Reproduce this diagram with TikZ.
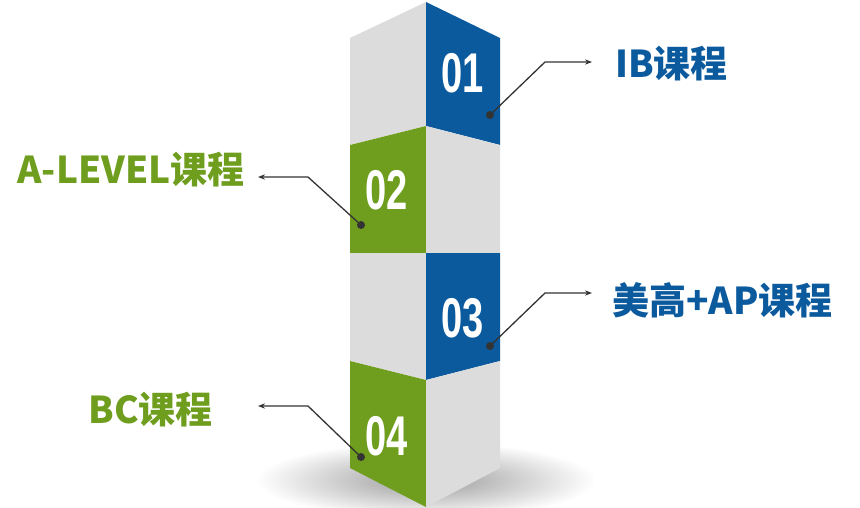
\documentclass[tikz,border=0pt]{standalone}
\usepackage{fontspec}
\setmainfont{Liberation Sans}
\newfontfamily\cjk{Noto Sans CJK SC}
\usetikzlibrary{positioning, calc, arrows.meta}
\definecolor{stepblue}{HTML}{0B5A9E}
\definecolor{stepgreen}{HTML}{6F9E1F}
\definecolor{facegray}{HTML}{DCDCDC}
\definecolor{linegray}{HTML}{333333}

\begin{document}
\begin{tikzpicture}[
    x=1pt, y=-1pt,
    num/.style={text=white, font=\fontsize{56}{56}\selectfont\bfseries, xscale=0.68, inner sep=0},
    label/.style={font=\cjk\fontsize{37}{37}\selectfont\bfseries, inner sep=0},
    dot/.style={circle, fill=linegray, inner sep=0, minimum size=8pt},
    pointer/.style={linegray, line width=1.3pt, -{Stealth[length=7pt]}}
]
\useasboundingbox (0,0) rectangle (860,507);

% shadow under the column
\shade[inner color=black!40, outer color=white] (426,480) ellipse (170 and 38);

% block 1
\fill[facegray] (350,38) -- (426,2) -- (426,126) -- (350,145) -- cycle;
\fill[stepblue] (426,2) -- (500,38) -- (500,145) -- (426,126) -- cycle;
% block 2
\fill[stepgreen] (350,145) -- (426,126) -- (426,253) -- (350,253) -- cycle;
\fill[facegray] (426,126) -- (500,145) -- (500,253) -- (426,253) -- cycle;
% block 3
\fill[facegray] (350,253) -- (426,253) -- (426,380) -- (350,361) -- cycle;
\fill[stepblue] (426,253) -- (500,253) -- (500,361) -- (426,380) -- cycle;
% block 4
\fill[stepgreen] (350,361) -- (426,380) -- (426,507) -- (350,468) -- cycle;
\fill[facegray] (426,380) -- (500,361) -- (500,468) -- (426,507) -- cycle;

% numbers
\node[num] (n1) at (463,73) {01};
\node[num] (n2) at (387,190) {02};
\node[num] (n3) at (463,318) {03};
\node[num] (n4) at (387,436) {04};

% dots
\node[dot] (d1) at (490,115) {};
\node[dot] (d2) at (361,225) {};
\node[dot] (d3) at (490,346) {};
\node[dot] (d4) at (361,457) {};

% labels
\node[label, text=stepblue, anchor=west] (l1) at (615,64) {IB课程};
\node[label, text=stepgreen, anchor=east] (l2) at (245,170) {A-LEVEL课程};
\node[label, text=stepblue, anchor=west] (l3) at (612,300) {美高+AP课程};
\node[label, text=stepgreen, anchor=east] (l4) at (213,410) {BC课程};

% pointers
\coordinate (k1) at (545,62);
\coordinate (k2) at (308,177);
\coordinate (k3) at (545,293);
\coordinate (k4) at (308,406);
\draw[pointer] (d1.center) -- (k1) -- ++(47,0);
\draw[pointer] (d2.center) -- (k2) -- ++(-50,0);
\draw[pointer] (d3.center) -- (k3) -- ++(47,0);
\draw[pointer] (d4.center) -- (k4) -- ++(-50,0);
\end{tikzpicture}
\end{document}
